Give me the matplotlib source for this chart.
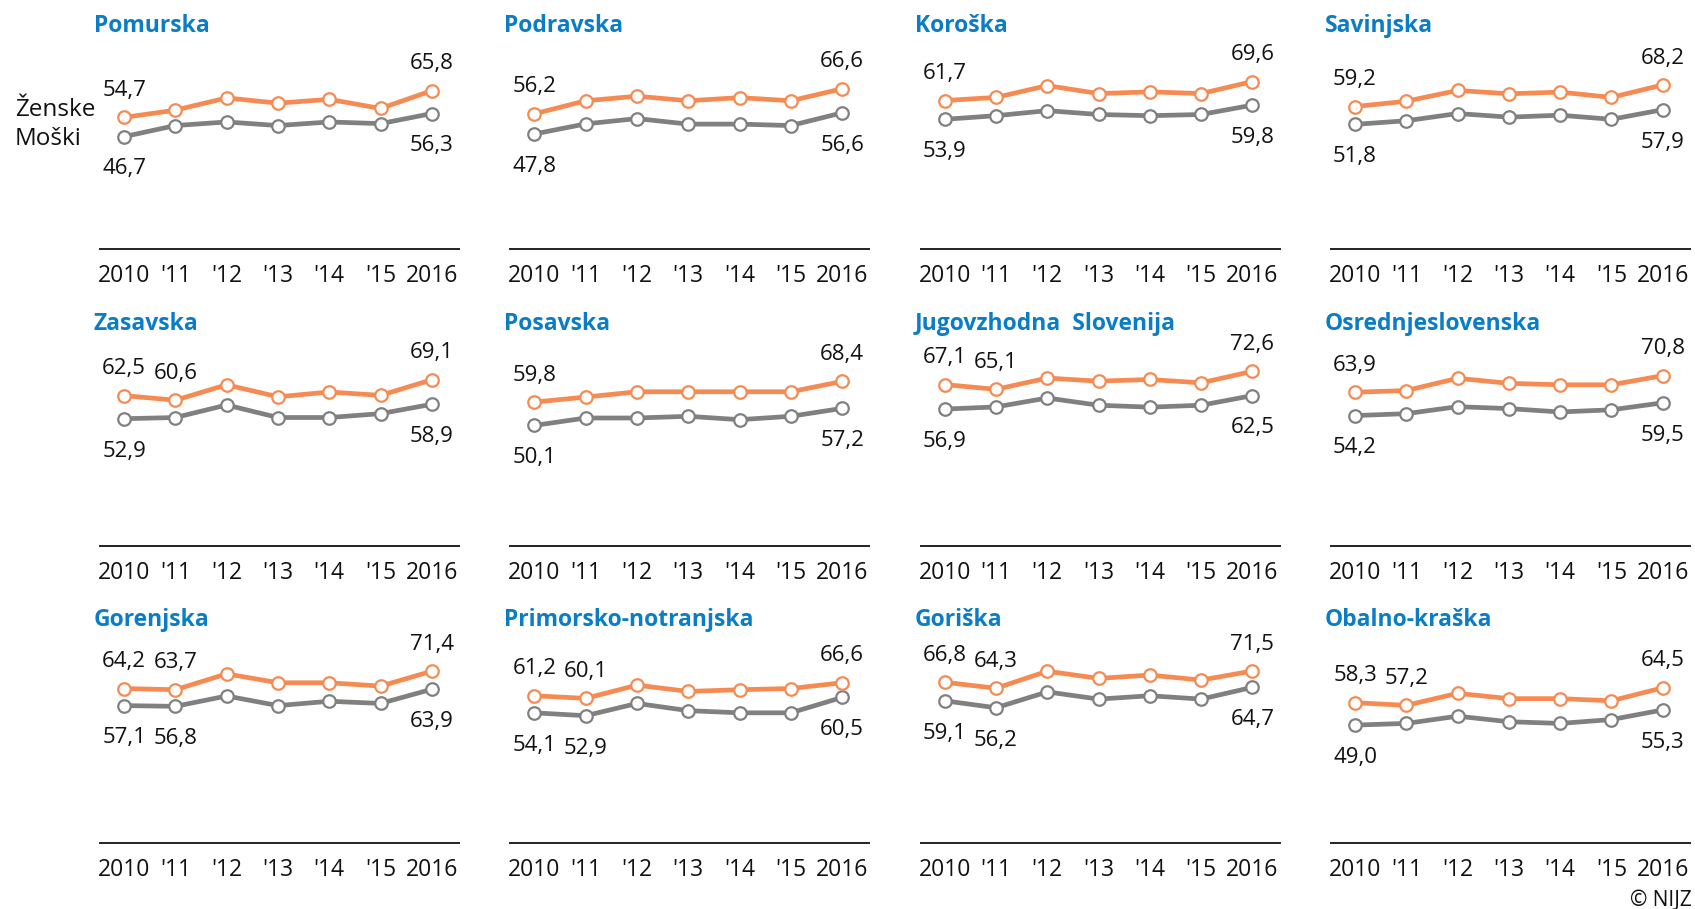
import matplotlib
matplotlib.use("Agg")
import matplotlib.pyplot as plt

plt.rcParams['font.family'] = ['Open Sans', 'DejaVu Sans']

# data: share (%) per region, 2010-2016
years = ['2010', "'11", "'12", "'13", "'14", "'15", '2016']

regions = ['Pomurska', 'Podravska', 'Koroška', 'Savinjska',
           'Zasavska', 'Posavska', 'Jugovzhodna  Slovenija', 'Osrednjeslovenska',
           'Gorenjska', 'Primorsko-notranjska', 'Goriška', 'Obalno-kraška']

zenske = [
    [54.7, 57.7, 62.8, 60.6, 62.2, 58.4, 65.8],
    [56.2, 61.6, 63.5, 61.6, 62.9, 61.6, 66.6],
    [61.7, 63.0, 67.9, 64.6, 65.3, 64.6, 69.6],
    [59.2, 61.4, 65.9, 64.5, 65.2, 63.0, 68.2],
    [62.5, 60.6, 67.0, 62.0, 64.0, 62.6, 69.1],
    [59.8, 61.9, 64.1, 64.1, 64.1, 64.1, 68.4],
    [67.1, 65.1, 69.8, 68.5, 69.2, 67.8, 72.6],
    [63.9, 64.6, 69.7, 67.6, 67.0, 67.0, 70.8],
    [64.2, 63.7, 70.3, 66.6, 66.6, 65.2, 71.4],
    [61.2, 60.1, 65.6, 63.0, 63.7, 64.2, 66.6],
    [66.8, 64.3, 71.4, 68.4, 69.8, 67.7, 71.5],
    [58.3, 57.2, 62.2, 60.0, 60.0, 59.1, 64.5],
]

moski = [
    [46.7, 51.3, 52.8, 51.3, 52.8, 52.1, 56.3],
    [47.8, 52.0, 54.2, 51.9, 51.9, 51.3, 56.6],
    [53.9, 55.4, 57.5, 55.9, 55.4, 55.9, 59.8],
    [51.8, 53.3, 56.3, 54.8, 55.6, 53.9, 57.9],
    [52.9, 53.4, 58.6, 53.4, 53.4, 55.0, 58.9],
    [50.1, 53.2, 53.2, 53.9, 52.5, 53.9, 57.2],
    [56.9, 57.8, 61.5, 58.5, 57.7, 58.5, 62.5],
    [54.2, 55.0, 57.9, 57.1, 55.7, 56.6, 59.5],
    [57.1, 56.8, 61.1, 57.1, 58.9, 58.0, 63.9],
    [54.1, 52.9, 58.0, 55.0, 54.1, 54.1, 60.5],
    [59.1, 56.2, 62.8, 59.8, 61.2, 59.8, 64.7],
    [49.0, 49.7, 52.7, 50.4, 49.7, 51.3, 55.3],
]

# which points carry a value label
zenske_labels = [[0, 6], [0, 6], [0, 6], [0, 6],
                 [0, 1, 6], [0, 6], [0, 1, 6], [0, 6],
                 [0, 1, 6], [0, 1, 6], [0, 1, 6], [0, 1, 6]]
moski_labels = [[0, 6], [0, 6], [0, 6], [0, 6],
                [0, 6], [0, 6], [0, 6], [0, 6],
                [0, 1, 6], [0, 1, 6], [0, 1, 6], [0, 6]]

ORANGE = '#f58b52'
GREY = '#808080'
BLUE = '#0a7dc6'

W, H = 1695, 909
fig = plt.figure(figsize=(W / 100, H / 100), dpi=100)

def fmt(v):
    return f'{v:.1f}'.replace('.', ',')

for i, name in enumerate(regions):
    r, c = divmod(i, 4)
    base_px = 249 + 297 * r
    left_px = 100 + 410.3 * c
    ax = fig.add_axes([left_px / W, (H - base_px) / H, 359 / W, 192.5 / H])
    ax.set_ylim(0, 80)
    ax.set_xlim(-0.47, 6.53)

    x = list(range(len(years)))
    ax.plot(x, zenske[i], color=ORANGE, lw=3.4, marker='o', ms=9,
            mfc='white', mec=ORANGE, mew=1.6, zorder=3)
    ax.plot(x, moski[i], color=GREY, lw=3.4, marker='o', ms=9,
            mfc='white', mec=GREY, mew=1.6, zorder=2)

    for j in zenske_labels[i]:
        ax.annotate(fmt(zenske[i][j]), (j, zenske[i][j]), xytext=(0, 19.3),
                    textcoords='offset points', ha='center', va='center',
                    fontsize=16, color='#111111')
    for j in moski_labels[i]:
        ax.annotate(fmt(moski[i][j]), (j, moski[i][j]), xytext=(0, -23.3),
                    textcoords='offset points', ha='center', va='center',
                    fontsize=16, color='#111111')

    for s in ['top', 'left', 'right']:
        ax.spines[s].set_visible(False)
    ax.spines['bottom'].set_color('#222222')
    ax.spines['bottom'].set_linewidth(1.4)
    ax.set_yticks([])
    ax.set_xticks(x)
    ax.set_xticklabels(years, fontsize=16.5, color='#111111')
    ax.tick_params(axis='x', length=0, pad=10.5)
    ax.patch.set_alpha(0)

    fig.text((left_px - 6) / W, (H - (26.5 + 297 * r)) / H, name,
             fontsize=16.5, fontweight='bold', color=BLUE, va='center', ha='left')

fig.text(15 / W, (H - 110) / H, 'Ženske', fontsize=17.5, va='center', color='#111111')
fig.text(15 / W, (H - 139) / H, 'Moški', fontsize=17.5, va='center', color='#111111')
fig.text(1692 / W, (H - 900) / H, '© NIJZ', fontsize=15, ha='right', va='center',
         color='#111111')

fig.savefig('out.png', dpi=100)
